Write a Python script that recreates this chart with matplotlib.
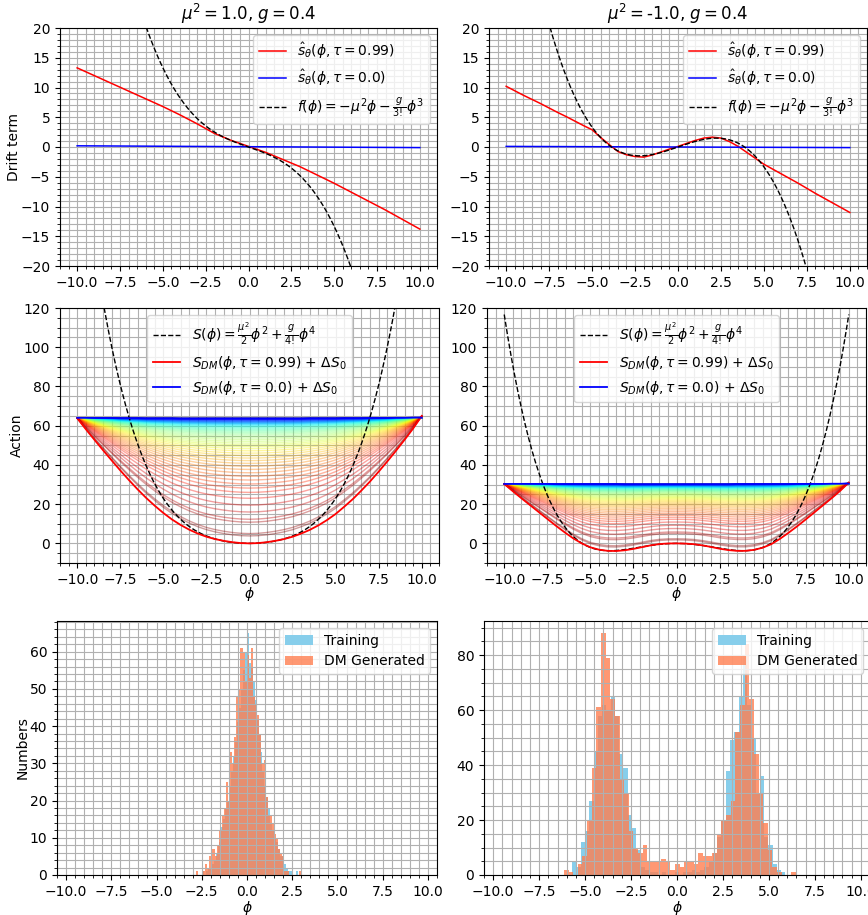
import numpy as np
import matplotlib
matplotlib.use('Agg')
import matplotlib.pyplot as plt
from matplotlib.ticker import MultipleLocator, AutoMinorLocator

# panel parameters (from the titles)
mu2_vals = [1.0, -1.0]
g_val = 0.4

# sample points of the learned curves
phi = np.arange(-10, 10.5, 1.0)
phi_fine = np.arange(-10, 10.25, 0.5)
phi_blue = [-10, 0, 10]

# drift term s_theta(phi, tau=0.99)
drift_red_l = [13.3, 12.0, 10.7, 9.4, 8.1, 6.8, 5.4, 3.9, 2.3, 1.1, 0.1,
               -0.9, -2.1, -3.3, -4.7, -6.1, -7.6, -9.1, -10.6, -12.2, -13.8]
drift_red_r = [10.2, 9.45, 8.7, 8.0, 7.3, 6.55, 5.8, 5.1, 4.35, 3.6, 2.9,
               1.6, 0.4, -0.75, -1.3, -1.6, -1.7, -1.35, -0.85, -0.35, 0.1,
               0.6, 1.1, 1.5, 1.65, 1.5, 0.9, 0.1, -0.9, -1.9, -2.9,
               -3.7, -4.5, -5.3, -6.1, -6.95, -7.8, -8.6, -9.4, -10.2, -11.0]
drift_blue_l = [0.2, 0.05, -0.1]
drift_blue_r = [0.1, 0.0, -0.1]

# action S_DM + dS0 on phi_fine, tau=0.99 (red) and tau=0 (blue)
act_red_l = [63.8, 58.2, 52.8, 47.5, 42.3, 37.2, 32.3, 27.6, 23.2, 19.2,
             15.5, 12.2, 9.4, 7.0, 5.0, 3.4, 2.2, 1.3, 0.6, 0.15, 0.0,
             0.15, 0.6, 1.3, 2.2, 3.4, 5.0, 6.9, 9.2, 11.9, 15.0,
             18.7, 22.6, 27.0, 31.6, 36.6, 41.8, 47.2, 52.8, 58.6, 65.0]
act_blue_l = [64.0, 64.0, 63.9, 63.9, 63.9, 63.8, 63.8, 63.8, 63.7, 63.7,
              63.7, 63.7, 63.6, 63.6, 63.6, 63.6, 63.6, 63.6, 63.6, 63.6,
              63.6, 63.6, 63.6, 63.6, 63.6, 63.6, 63.6, 63.7, 63.7, 63.7,
              63.7, 63.8, 63.8, 63.8, 63.9, 63.9, 63.9, 64.0, 64.0, 64.1,
              64.1]
act_red_r = [30.3, 26.6, 23.0, 19.5, 16.0, 12.5, 9.0, 5.7, 2.6, 0.0,
             -2.0, -3.2, -3.8, -3.9, -3.5, -2.8, -1.9, -1.0, -0.35, -0.05,
             0.0, -0.1, -0.4, -1.0, -1.8, -2.7, -3.4, -3.8, -3.8, -3.3,
             -2.2, -0.4, 2.3, 5.4, 8.7, 12.2, 15.8, 19.4, 23.0, 26.8, 31.0]
act_blue_r = [30.3, 30.3, 30.3, 30.3, 30.3, 30.3, 30.2, 30.2, 30.2, 30.2,
              30.2, 30.2, 30.2, 30.2, 30.1, 30.1, 30.1, 30.1, 30.1, 30.1,
              30.1, 30.1, 30.1, 30.1, 30.1, 30.1, 30.1, 30.2, 30.2, 30.2,
              30.2, 30.2, 30.2, 30.2, 30.3, 30.3, 30.3, 30.3, 30.4, 30.4,
              30.5]
# value at phi=0 of the intermediate tau curves (left panel, top to bottom)
fan_depth = [64.0, 63.9, 63.8, 63.7, 63.6, 63.5, 63.4, 63.2, 63.0, 62.8,
             62.6, 62.4, 62.2, 62.0, 61.8, 61.6, 61.4, 61.2, 61.0, 60.7,
             60.4, 60.0, 59.6, 59.2, 58.7, 58.2, 57.7, 57.2, 56.6, 56.0,
             55.3, 54.5, 53.7, 52.9, 52.0, 51.1, 50.2, 49.3, 48.3, 47.2,
             46.0, 44.8, 43.5, 42.2, 40.8, 39.3, 37.7, 36.0, 34.2, 32.3,
             30.3, 28.2, 26.0, 23.0, 19.5, 16.0, 12.3, 10.8, 5.0, 3.8]

# histograms: bin range and counts
train_rng = [(-2.6, 2.8), (-5.7, 5.9)]
dm_rng = [(-2.8, 3.0), (-6.15, 6.45)]
train_counts_l = [0, 1, 0, 1, 2, 2, 3, 4, 6, 8, 9, 13, 15, 18, 20, 24, 28,
                  32, 36, 41, 45, 50, 55, 60, 65, 57, 56, 52, 47, 42, 38, 33,
                  28, 24, 21, 18, 14, 12, 10, 9, 7, 5, 5, 3, 2, 1, 1, 0, 0, 1]
dm_counts_l = [1, 0, 0, 1, 3, 2, 5, 7, 7, 5, 8, 12, 16, 18, 25, 20, 33, 30,
               37, 48, 50, 61, 60, 52, 59, 53, 61, 48, 46, 43, 38, 30, 31,
               21, 16, 16, 14, 11, 10, 7, 6, 5, 1, 1, 0, 0, 0, 0, 0, 1]
train_counts_r = [5, 3, 12, 16, 27, 45, 58, 62, 60, 65, 58, 44, 39, 22, 17,
                  9, 3, 2, 1, 1, 0, 1, 0, 0, 1, 0, 1, 1, 2, 1, 2, 3, 5, 8,
                  14, 20, 38, 49, 52, 65, 80, 62, 50, 30, 36, 14, 11, 4, 2, 1]
dm_counts_r = [2, 1, 0, 4, 7, 20, 39, 61, 88, 79, 64, 58, 35, 30, 16, 10, 8,
               11, 5, 5, 5, 6, 5, 2, 4, 3, 5, 5, 4, 8, 7, 7, 8, 15, 20, 22,
               27, 52, 62, 84, 64, 44, 30, 19, 9, 3, 1, 0, 0, 1]

W, H = 868, 915
fig = plt.figure(figsize=(W / 100, H / 100), dpi=100)


def add_ax(left, right, top, bottom):
    '''axes from pixel box (origin top-left)'''
    return fig.add_axes([left / W, 1 - bottom / H,
                         (right - left) / W, (bottom - top) / H])


def style(ax, ymajor):
    ax.xaxis.set_major_locator(MultipleLocator(2.5))
    ax.yaxis.set_major_locator(MultipleLocator(ymajor))
    ax.xaxis.set_minor_locator(AutoMinorLocator())
    ax.yaxis.set_minor_locator(AutoMinorLocator())
    ax.grid(True, which='both')


phi_s = np.linspace(-10, 10, 400)  # smooth grid for the analytic curves
top_axes = [add_ax(60, 437, 28, 266), add_ax(489, 867, 28, 266)]
mid_axes = [add_ax(60, 439, 308, 563), add_ax(487, 866, 308, 563)]
bot_axes = [add_ax(57, 437, 621, 875), add_ax(484, 870, 621, 875)]

# top row: drift term
for ax, mu2, red, phr, blue in zip(top_axes, mu2_vals,
                                   [drift_red_l, drift_red_r],
                                   [phi, phi_fine],
                                   [drift_blue_l, drift_blue_r]):
    f = -mu2 * phi_s - g_val / 6 * phi_s ** 3
    ax.plot(phr, red, '-', color='red', lw=1.1,
            label=r'$\hat{s}_\theta(\phi, \tau=0.99)$')
    ax.plot(phi_blue, blue, '-', color='blue', lw=1.1,
            label=r'$\hat{s}_\theta(\phi, \tau=0.0)$')
    ax.plot(phi_s, f, '--', color='k', lw=1.0,
            label=r'$f(\phi) = -\mu^2\phi - \frac{g}{3!}\phi^3$')
    ax.set_xlim(-11, 11)
    ax.set_ylim(-20, 20)
    style(ax, 5)
    ax.legend(loc='upper right')
    ax.set_title(rf'$\mu^2 = ${mu2}, $g = ${g_val}', fontsize=12)
top_axes[0].set_ylabel('Drift term', labelpad=0)

# middle row: action with the intermediate tau curves
fan_colors = plt.cm.jet(np.linspace(0, 1, len(fan_depth)))
i0 = len(phi_fine) // 2
for ax, mu2, red, blue in zip(mid_axes, mu2_vals, [act_red_l, act_red_r],
                              [act_blue_l, act_blue_r]):
    red, blue = np.array(red), np.array(blue)
    for depth, c in zip(fan_depth, fan_colors):
        w = (act_blue_l[i0] - depth) / (act_blue_l[i0] - act_red_l[i0])
        ax.plot(phi_fine, blue + w * (red - blue), '-', color=c, lw=1,
                alpha=0.38)
    S = mu2 / 2 * phi_s ** 2 + g_val / 24 * phi_s ** 4
    ax.plot(phi_s, S, '--', color='k', lw=1.0,
            label=r'$S(\phi) = \frac{\mu^2}{2}\phi^2 + \frac{g}{4!}\phi^4$')
    ax.plot(phi_fine, red, '-', color='red', lw=1.3,
            label=r'$S_{DM}(\phi, \tau=0.99)$ + $\Delta S_0$')
    ax.plot(phi_fine, blue, '-', color='blue', lw=1.3,
            label=r'$S_{DM}(\phi, \tau=0.0)$ + $\Delta S_0$')
    ax.set_xlim(-11, 11)
    ax.set_ylim(-10, 120)
    style(ax, 20)
    ax.legend(loc='upper center')
    ax.set_xlabel(r'$\phi$', labelpad=-1)
mid_axes[0].set_ylabel('Action', labelpad=0)

# bottom row: histograms
for ax, trng, drng, tc, dc, ym in zip(
        bot_axes, train_rng, dm_rng, [train_counts_l, train_counts_r],
        [dm_counts_l, dm_counts_r], [10, 20]):
    te = np.linspace(trng[0], trng[1], len(tc) + 1)
    de = np.linspace(drng[0], drng[1], len(dc) + 1)
    ax.bar(te[:-1], tc, width=np.diff(te), align='edge', color='skyblue',
           lw=0, label='Training')
    ax.bar(de[:-1], dc, width=np.diff(de), align='edge', color='coral',
           alpha=0.8, lw=0, label='DM Generated')
    ax.set_xlim(-10.5, 10.5)
    style(ax, ym)
    ax.legend(loc='upper right')
    ax.set_xlabel(r'$\phi$', labelpad=0)
bot_axes[0].set_ylabel('Numbers', labelpad=0)

fig.savefig('out.png', dpi=100)
